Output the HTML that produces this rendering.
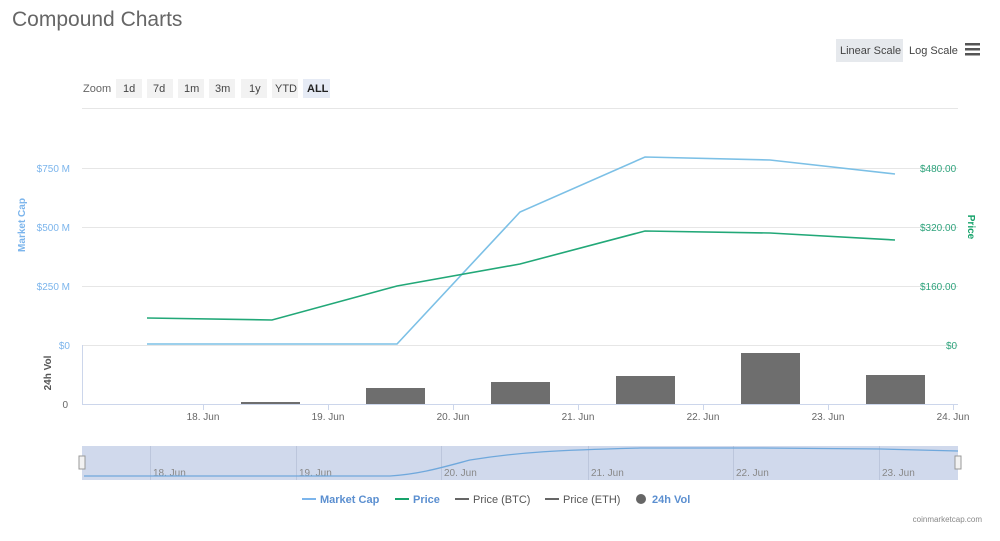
<!DOCTYPE html>
<html><head><meta charset="utf-8"><style>
body{margin:0;background:#fff;width:1000px;height:536px;overflow:hidden;font-family:"Liberation Sans",sans-serif}
</style></head><body>
<svg width="1000" height="536" xmlns="http://www.w3.org/2000/svg" font-family="Liberation Sans, sans-serif">
<text x="12" y="26" font-size="21" fill="#666">Compound Charts</text>
<rect x="836" y="39" width="67" height="23" fill="#e6e9ed"/>
<text x="840" y="54" font-size="11" fill="#444">Linear Scale</text>
<text x="909" y="54" font-size="11" fill="#444">Log Scale</text>
<rect x="965" y="43" width="15" height="2.5" fill="#555"/><rect x="965" y="48" width="15" height="2.5" fill="#555"/><rect x="965" y="53" width="15" height="2.5" fill="#555"/>
<text x="83" y="92" font-size="11" fill="#666">Zoom</text>
<g font-size="11" fill="#444">
<rect x="116" y="79" width="26" height="19" fill="#f2f2f2"/><text x="123" y="92">1d</text>
<rect x="147" y="79" width="26" height="19" fill="#f2f2f2"/><text x="153" y="92">7d</text>
<rect x="178" y="79" width="26" height="19" fill="#f2f2f2"/><text x="184" y="92">1m</text>
<rect x="209" y="79" width="26" height="19" fill="#f2f2f2"/><text x="215" y="92">3m</text>
<rect x="241" y="79" width="26" height="19" fill="#f2f2f2"/><text x="249" y="92">1y</text>
<rect x="272" y="79" width="26" height="19" fill="#f2f2f2"/><text x="275" y="92">YTD</text>
<rect x="303" y="79" width="27" height="19" fill="#e6ebf5"/><text x="307" y="92" font-weight="bold" fill="#222">ALL</text>
</g>
<g stroke="#e6e6e6" stroke-width="1">
<line x1="82" y1="108.5" x2="958" y2="108.5"/><line x1="82" y1="168.5" x2="958" y2="168.5"/>
<line x1="82" y1="227.5" x2="958" y2="227.5"/><line x1="82" y1="286.5" x2="958" y2="286.5"/>
<line x1="82" y1="345.5" x2="958" y2="345.5"/>
</g>
<line x1="82.5" y1="345" x2="82.5" y2="404" stroke="#ccd6eb"/>
<line x1="82" y1="404.5" x2="958" y2="404.5" stroke="#ccd6eb"/>
<g stroke="#ccd6eb"><line x1="203.5" y1="404" x2="203.5" y2="410"/><line x1="328.5" y1="404" x2="328.5" y2="410"/><line x1="453.5" y1="404" x2="453.5" y2="410"/><line x1="578.5" y1="404" x2="578.5" y2="410"/><line x1="703.5" y1="404" x2="703.5" y2="410"/><line x1="828.5" y1="404" x2="828.5" y2="410"/><line x1="953.5" y1="404" x2="953.5" y2="410"/></g>
<g font-size="10" fill="#666" text-anchor="middle">
<text x="203" y="420">18. Jun</text><text x="328" y="420">19. Jun</text><text x="453" y="420">20. Jun</text><text x="578" y="420">21. Jun</text><text x="703" y="420">22. Jun</text><text x="828" y="420">23. Jun</text><text x="953" y="420">24. Jun</text>
</g>
<g font-size="10" fill="#7cb5ec" text-anchor="end">
<text x="70" y="172">$750 M</text><text x="70" y="231">$500 M</text><text x="70" y="290">$250 M</text><text x="70" y="349">$0</text>
</g>
<text x="68" y="408" font-size="10" fill="#666" text-anchor="end">0</text>
<g font-size="10" fill="#2ea37c">
<text x="920" y="172">$480.00</text><text x="920" y="231">$320.00</text><text x="920" y="290">$160.00</text><text x="946" y="349">$0</text>
</g>
<text transform="translate(25,225) rotate(-90)" font-size="10" font-weight="bold" fill="#7cb5ec" text-anchor="middle">Market Cap</text>
<text transform="translate(968,227) rotate(90)" font-size="10" font-weight="bold" fill="#17a36b" text-anchor="middle">Price</text>
<text transform="translate(51,373) rotate(-90)" font-size="10" font-weight="bold" fill="#555" text-anchor="middle">24h Vol</text>
<g fill="#6e6e6e">
<rect x="241" y="402" width="59" height="2"/><rect x="366" y="388" width="59" height="16"/><rect x="491" y="382" width="59" height="22"/><rect x="616" y="376" width="59" height="28"/><rect x="741" y="353" width="59" height="51"/><rect x="866" y="375" width="59" height="29"/>
</g>
<polyline fill="none" stroke="#7cc0e6" stroke-width="1.6" points="147,344 272,344 397,344 520,212 645,157 770,160 895,174"/>
<polyline fill="none" stroke="#22a878" stroke-width="1.6" points="147,318 272,320 397,286 520,264 645,231 770,233 895,240"/>
<rect x="82" y="446" width="876" height="34" fill="#d0d9ec"/>
<g stroke="#bcc6dc"><line x1="150.5" y1="446" x2="150.5" y2="480"/><line x1="296.5" y1="446" x2="296.5" y2="480"/><line x1="441.5" y1="446" x2="441.5" y2="480"/><line x1="588.5" y1="446" x2="588.5" y2="480"/><line x1="733.5" y1="446" x2="733.5" y2="480"/><line x1="879.5" y1="446" x2="879.5" y2="480"/></g>
<g font-size="10" fill="#888"><text x="153" y="476">18. Jun</text><text x="299" y="476">19. Jun</text><text x="444" y="476">20. Jun</text><text x="591" y="476">21. Jun</text><text x="736" y="476">22. Jun</text><text x="882" y="476">23. Jun</text></g>
<path d="M84,476 L390,476 C420,474 440,468 470,460 C520,452 560,450 640,448 L760,448 L880,449 L958,451" fill="none" stroke="#6fa8dc" stroke-width="1.3"/>
<rect x="79" y="456" width="6" height="13" fill="#f2f2f2" stroke="#999"/>
<rect x="955" y="456" width="6" height="13" fill="#f2f2f2" stroke="#999"/>
<g font-size="11" font-weight="bold">
<line x1="302" y1="499" x2="316" y2="499" stroke="#7cb5ec" stroke-width="2"/><text x="320" y="503" fill="#5b8fd0">Market Cap</text>
<line x1="395" y1="499" x2="409" y2="499" stroke="#17a36b" stroke-width="2"/><text x="413" y="503" fill="#5b8fd0">Price</text>
<line x1="455" y1="499" x2="469" y2="499" stroke="#666" stroke-width="2"/><text x="473" y="503" fill="#555" font-weight="normal">Price (BTC)</text>
<line x1="545" y1="499" x2="559" y2="499" stroke="#666" stroke-width="2"/><text x="563" y="503" fill="#555" font-weight="normal">Price (ETH)</text>
<circle cx="641" cy="499" r="5" fill="#666"/><text x="652" y="503" fill="#5b8fd0">24h Vol</text>
</g>
<text x="982" y="522" font-size="8" fill="#888" text-anchor="end">coinmarketcap.com</text>
</svg>
</body></html>
